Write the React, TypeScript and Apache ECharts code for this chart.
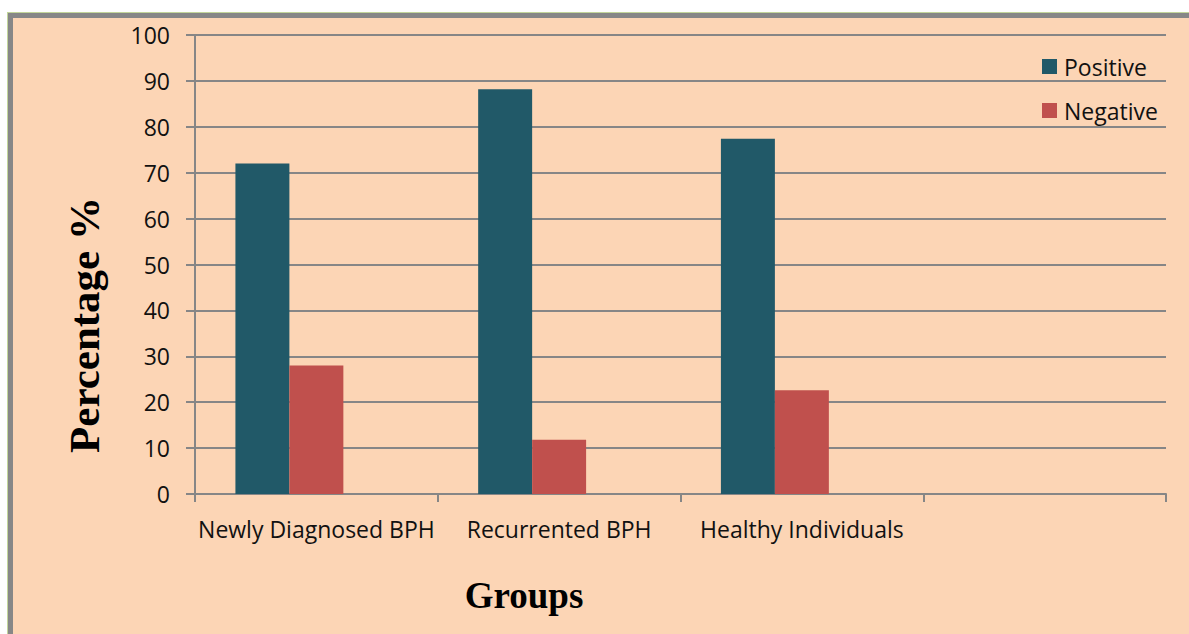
import React, { useEffect, useRef } from "react";
import * as echarts from "echarts";

const categories = ["Newly Diagnosed BPH", "Recurrented BPH", "Healthy Individuals", ""];
const positive = [72, 88.2, 77.4, null];
const negative = [28, 11.8, 22.6, null];
const yTicks = { min: 0, max: 100, interval: 10 };

export default function App() {
  const ref = useRef<HTMLDivElement>(null);
  useEffect(() => {
    document.body.style.margin = "0";
    const chart = echarts.init(ref.current!, undefined, { renderer: "svg" });
    const labelFont = { fontFamily: "Open Sans", fontSize: 23, color: "#111" };
    chart.setOption({
      animation: false,
      backgroundColor: "#FCD5B5",
      grid: { left: 195, right: 23, top: 35, bottom: 140, containLabel: false },
      legend: {
        orient: "vertical",
        left: 1037,
        top: 50,
        itemWidth: 15,
        itemHeight: 15,
        itemGap: 21,
        icon: "rect",
        data: ["Positive", "Negative"],
        textStyle: { ...labelFont, fontSize: 23, lineHeight: 20, padding: [0, 0, 0, 2] },
      },
      xAxis: {
        type: "category",
        data: categories,
        boundaryGap: true,
        axisLine: { lineStyle: { color: "#868686", width: 2 } },
        axisTick: { show: true, length: 8, interval: 0, lineStyle: { color: "#868686", width: 2 } },
        axisLabel: { ...labelFont, margin: 23, interval: 0 },
      },
      yAxis: {
        type: "value",
        min: yTicks.min,
        max: yTicks.max,
        interval: yTicks.interval,
        axisLine: { show: true, lineStyle: { color: "#868686", width: 2 } },
        axisTick: { show: true, length: 9, lineStyle: { color: "#868686", width: 2 } },
        axisLabel: { ...labelFont, margin: 25 },
        splitLine: { lineStyle: { color: "#868686", width: 2 } },
      },
      series: [
        { name: "Positive", type: "bar", data: positive, barGap: "0%", barCategoryGap: "33.3%", itemStyle: { color: "#215968" } },
        { name: "Negative", type: "bar", data: negative, itemStyle: { color: "#C0504D" } },
        { name: "Hidden", type: "bar", data: [null, null, null, null] },
      ],
      graphic: [
        { type: "rect", shape: { x: 0, y: 0, width: 1189, height: 12 }, style: { fill: "#fff" } },
        { type: "rect", shape: { x: 0, y: 0, width: 7, height: 634 }, style: { fill: "#fff" } },
        { type: "rect", shape: { x: 7, y: 12, width: 1182, height: 1 }, style: { fill: "#C3D69B" } },
        { type: "rect", shape: { x: 7, y: 12, width: 1, height: 622 }, style: { fill: "#C3D69B" } },
        { type: "rect", shape: { x: 8, y: 13, width: 1181, height: 5 }, style: { fill: "#878787" } },
        { type: "rect", shape: { x: 8, y: 13, width: 5, height: 621 }, style: { fill: "#878787" } },
        {
          type: "text",
          x: 84,
          y: 325,
          rotation: Math.PI / 2,
          style: {
            text: "Percentage %",
            font: "bold 43px 'Liberation Serif'",
            fill: "#000",
            align: "center",
            verticalAlign: "middle",
          },
        },
        {
          type: "text",
          x: 524,
          y: 595,
          style: {
            text: "Groups",
            font: "bold 37px 'Liberation Serif'",
            fill: "#000",
            align: "center",
            verticalAlign: "middle",
          },
        },
      ],
    });
    return () => chart.dispose();
  }, []);
  return <div ref={ref} style={{ position: "absolute", left: 0, top: 0, width: 1189, height: 634 }} />;
}
